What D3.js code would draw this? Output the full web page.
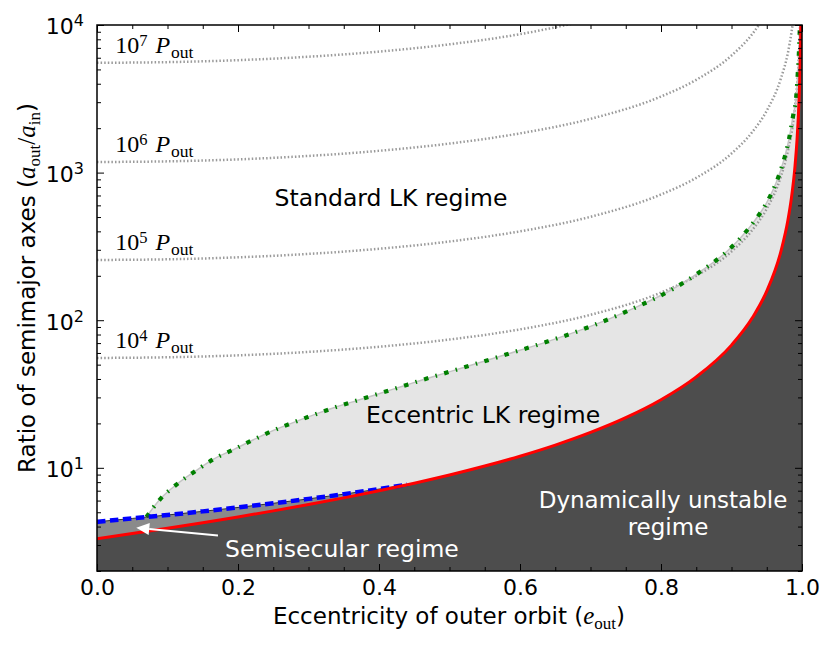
<!DOCTYPE html>
<html><head><meta charset="utf-8">
<script src="https://cdn.jsdelivr.net/npm/d3@7"></script>
<style>body{margin:0;background:#fff} svg{display:block}</style>
</head><body><svg id="c" width="831" height="652"></svg>
<script>
// ---- data ----
const eGrid = [0,0.1,0.2,0.3,0.4,0.5,0.6,0.7,0.8,0.85,0.9,0.93,0.95,0.97,0.98,0.99,0.995,0.997,0.998];
const p4 = [55.5,56.1,57.8,61.0,66.1,74.0,86.7,108.8,154,200,292,411,569,939,1401,2789,5564,9264,13889];
const p5 = [256,258.6,266.7,281.3,304.8,341.3,400,502,711,922,1347,1897,2626,4332,6465,12864];
const p6 = [1180,1192,1229,1297,1405,1573,1844,2314,3278,4253,6211,8746,12103];
const p7 = [5547,5603,5778,6096,6604,7396,8667,10876];
const pExp = [4,5,6,7];

const eRed = [0,0.05,0.1,0.15,0.2,0.25,0.3,0.35,0.4,0.45,0.5,0.55,0.6,0.65,0.7,0.75,0.8,0.85,0.9,0.93,0.95,0.97,0.98,0.985,0.99,0.993,0.995,0.997,0.998,0.999];
const aRed = [3.31,3.59,3.90,4.25,4.65,5.11,5.64,6.26,7.00,7.87,8.94,10.28,11.99,14.25,17.36,21.86,28.9,41.3,67.8,104.6,157.4,291.7,475,673,1095,1686,2518,4653,7579,17380];

const eBlue = [0,0.05,0.1,0.15,0.2,0.25,0.3,0.35,0.4,0.44];
const aBlue = [4.31,4.54,4.79,5.07,5.39,5.75,6.16,6.63,7.18,7.70];

const eGreen = [0.07,0.09,0.114,0.14,0.166,0.195,0.222,0.25,0.28,0.31,0.34,0.37,0.40,0.43,0.46,0.49,0.52,0.58,0.64,0.70,0.757,0.813,0.865,0.891,0.913,0.933,0.95,0.964,0.974,0.9815,0.987,0.992,0.994,0.9957,0.9968,0.9975];
const aGreen = [4.64,6.17,7.79,9.55,11.5,13.4,15.5,17.9,20.4,23.1,25.9,28.7,31.8,35.3,39.2,43.3,47.8,58.5,71.9,90.8,118,159,229,285,362,473,627,869,1205,1683,2371,3340,4710,6640,9340,12000];

const xMajor = [0,0.2,0.4,0.6,0.8,1.0];
const xMinor = d3.range(0,1.0001,0.05);
const yMajor = [10,100,1000,10000];

// ---- layout ----
const m = {l:97, r:802, t:25, b:571};
const x = d3.scaleLinear().domain([0,1]).range([m.l,m.r]);
const y = d3.scaleLog().domain([2,1e4]).range([m.b,m.t]);
const svg = d3.select("#c");
const SANS = "DejaVu Sans, sans-serif";
const SERIF = "Liberation Serif, DejaVu Serif, serif";

svg.append("defs").append("clipPath").attr("id","clip")
  .append("rect").attr("x",m.l).attr("y",m.t).attr("width",m.r-m.l).attr("height",m.b-m.t);
const g = svg.append("g").attr("clip-path","url(#clip)");

const zip = (es,as)=>as.map((a,i)=>[es[i],a]);
const line = d3.line().x(d=>x(d[0])).y(d=>y(d[1])).curve(d3.curveMonotoneX);
const area = d3.area().x(d=>x(d[0])).y0(y(2)).y1(d=>y(d[1])).curve(d3.curveMonotoneX);

const red = zip(eRed,aRed), blue = zip(eBlue,aBlue), green = zip(eGreen,aGreen);

// fills
g.append("path").attr("d",area(green)).attr("fill","#e5e5e5");
g.append("path").attr("d",area(blue)).attr("fill","#8a8a8a");
g.append("path").attr("d",area(red)).attr("fill","#4d4d4d");

// timescale curves
[p4,p5,p6,p7].forEach(p=>{
  g.append("path").attr("d",line(zip(eGrid,p))).attr("fill","none")
   .attr("stroke","#9a9a9a").attr("stroke-width",2.5).attr("stroke-dasharray","1.5,2.1");
});

// green boundary
g.append("path").attr("d",line(green)).attr("fill","none").attr("stroke","#c4c4c4").attr("stroke-width",1.5);
g.append("path").attr("d",line(green)).attr("fill","none").attr("stroke","#008000")
  .attr("stroke-width",4.2).attr("stroke-dasharray","4.5,7.5,1.5,7.5");
// blue boundary
g.append("path").attr("d",line(blue)).attr("fill","none").attr("stroke","#333").attr("stroke-width",1);
g.append("path").attr("d",line(blue)).attr("fill","none").attr("stroke","#0000ff")
  .attr("stroke-width",4.5).attr("stroke-dasharray","8.5,4.5");
// red boundary
g.append("path").attr("d",line(red)).attr("fill","none").attr("stroke","#ff0000").attr("stroke-width",3);

// timescale labels
[p4,p5,p6,p7].forEach((p,i)=>{
  const t = svg.append("text").attr("x",x(0.026)).attr("y",y(p[0])-9.5)
    .attr("font-family",SERIF).attr("font-size",24).attr("fill","#000");
  t.append("tspan").text("10");
  t.append("tspan").attr("font-size",16.5).attr("dy",-7).text(pExp[i]);
  t.append("tspan").attr("dy",7).text("\u2009");
  t.append("tspan").attr("font-style","italic").attr("dx",3).text("P");
  t.append("tspan").attr("font-size",17.5).attr("dy",5).attr("dx",1).text("out");
});

// region labels
const lab = (txt,xx,yy,col,anchor,fs)=>svg.append("text").attr("x",xx).attr("y",yy)
  .attr("font-family",SANS).attr("font-size",fs||23.5).attr("fill",col)
  .attr("text-anchor",anchor||"middle").text(txt);
lab("Standard LK regime",391,206,"#000");
lab("Eccentric LK regime",483,422.5,"#000");
lab("Dynamically unstable",663,508,"#fff",null,23);
lab("regime",668,534.5,"#fff",null,23);
lab("Semisecular regime",225,556.5,"#fff","start");

// arrow
{
  const x1=x(0.1716), y1=y(3.48), x2=x(0.0557), y2=y(3.93);
  const ang=Math.atan2(y2-y1,x2-x1), L=13, hw=6;
  const bx=x2-L*Math.cos(ang), by=y2-L*Math.sin(ang);
  const px=-Math.sin(ang), py=Math.cos(ang);
  svg.append("line").attr("x1",x1).attr("y1",y1).attr("x2",bx).attr("y2",by)
    .attr("stroke","#fff").attr("stroke-width",2);
  svg.append("path").attr("d",`M${x2},${y2}L${bx+hw*px},${by+hw*py}L${bx-hw*px},${by-hw*py}Z`).attr("fill","#fff");
}

// axes
const styleAxis = sel=>{ sel.select(".domain").remove(); sel.selectAll(".tick line").attr("stroke","#000").attr("stroke-width",1); };
svg.append("g").attr("transform",`translate(0,${m.b})`)
  .call(d3.axisBottom(x).tickValues(xMinor).tickSize(-4).tickFormat("")).call(styleAxis);
svg.append("g").attr("transform",`translate(0,${m.t})`)
  .call(d3.axisTop(x).tickValues(xMinor).tickSize(-4).tickFormat("")).call(styleAxis);
const xb = svg.append("g").attr("transform",`translate(0,${m.b})`)
  .call(d3.axisBottom(x).tickValues(xMajor).tickSize(-7).tickPadding(8.5).tickFormat(d3.format(".1f"))).call(styleAxis);
xb.selectAll("text").attr("font-family",SANS).attr("font-size",22).attr("fill","#000");
svg.append("g").attr("transform",`translate(0,${m.t})`)
  .call(d3.axisTop(x).tickValues(xMajor).tickSize(-7).tickFormat("")).call(styleAxis);

const yMinor = [];
[1,10,100,1000].forEach(dec=>{ for(let k=2;k<=9;k++){ const v=dec*k; if(v>=2 && v<=1e4) yMinor.push(v);} });
svg.append("g").attr("transform",`translate(${m.l},0)`)
  .call(d3.axisLeft(y).tickValues(yMinor).tickSize(-4).tickFormat("")).call(styleAxis);
svg.append("g").attr("transform",`translate(${m.r},0)`)
  .call(d3.axisRight(y).tickValues(yMinor).tickSize(-4).tickFormat("")).call(styleAxis);
svg.append("g").attr("transform",`translate(${m.r},0)`)
  .call(d3.axisRight(y).tickValues(yMajor).tickSize(-7).tickFormat("")).call(styleAxis);
const yl = svg.append("g").attr("transform",`translate(${m.l},0)`)
  .call(d3.axisLeft(y).tickValues(yMajor).tickSize(-7).tickPadding(13).tickFormat(d=>String(Math.round(Math.log10(d))))).call(styleAxis);
yl.selectAll(".tick text").each(function(d){
  const t=d3.select(this); const ex=t.text(); t.text(null);
  t.attr("font-family",SANS).attr("font-size",22).attr("fill","#000").attr("dy","0.4em");
  t.append("tspan").text("10");
  t.append("tspan").attr("font-size",16).attr("dy",-8).text(ex);
});

// frame
svg.append("rect").attr("x",m.l).attr("y",m.t).attr("width",m.r-m.l).attr("height",m.b-m.t)
  .attr("fill","none").attr("stroke","#000").attr("stroke-width",1.5);

// axis labels
const xt = svg.append("text").attr("x",449).attr("y",624).attr("text-anchor","middle")
  .attr("font-family",SANS).attr("font-size",23).attr("fill","#000");
xt.append("tspan").text("Eccentricity of outer orbit (");
xt.append("tspan").attr("font-family",SERIF).attr("font-style","italic").attr("font-size",25).text("e");
xt.append("tspan").attr("font-family",SERIF).attr("font-size",17).attr("dy",5).text("out");
xt.append("tspan").attr("dy",-5).text(")");

const ytl = svg.append("text").attr("transform","translate(35,288) rotate(-90)").attr("text-anchor","middle")
  .attr("font-family",SANS).attr("font-size",23).attr("fill","#000");
ytl.append("tspan").text("Ratio of semimajor axes (");
ytl.append("tspan").attr("font-family",SERIF).attr("font-style","italic").attr("font-size",25).text("a");
ytl.append("tspan").attr("font-family",SERIF).attr("font-size",17).attr("dy",5).text("out");
ytl.append("tspan").attr("font-family",SERIF).attr("font-size",25).attr("dy",-5).text("/");
ytl.append("tspan").attr("font-family",SERIF).attr("font-style","italic").attr("font-size",25).text("a");
ytl.append("tspan").attr("font-family",SERIF).attr("font-size",17).attr("dy",5).text("in");
ytl.append("tspan").attr("dy",-5).text(")");
</script></body></html>
